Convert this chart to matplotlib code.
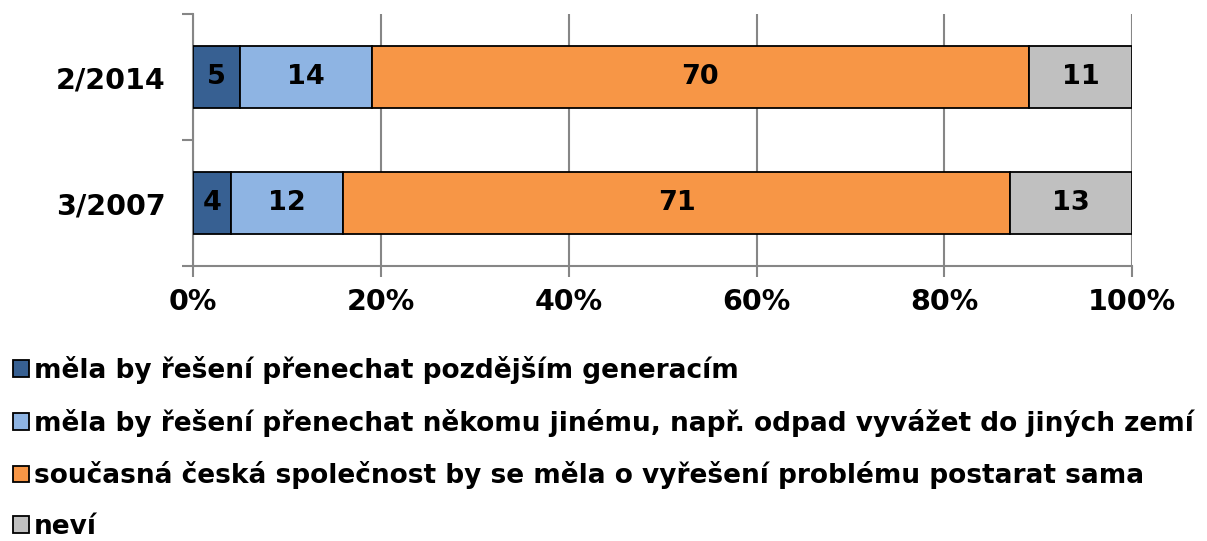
import numpy as np
import matplotlib.pyplot as plt

# data (percent)
periods = ["3/2007", "2/2014"]
later_gen = [4, 5]
someone_else = [12, 14]
ourselves = [71, 70]
dont_know = [13, 11]

labels = [
    "měla by řešení přenechat pozdějším generacím",
    "měla by řešení přenechat někomu jinému, např. odpad vyvážet do jiných zemí",
    "současná česká společnost by se měla o vyřešení problému postarat sama",
    "neví",
]
colors = ["#376092", "#8EB4E3", "#F79646", "#C0C0C0"]

plt.rcParams['font.family'] = ['DejaVu Sans']
plt.rcParams['font.weight'] = 'bold'

fig = plt.figure(figsize=(12.07, 5.41), dpi=100)
ax = fig.add_axes([0.160, 0.508, 0.778, 0.466])

y = np.arange(len(periods))
series = [later_gen, someone_else, ourselves, dont_know]
left = np.zeros(len(periods))
handles = []
for vals, col, lab in zip(series, colors, labels):
    vals = np.array(vals, dtype=float)
    b = ax.barh(y, vals, left=left, height=0.49, color=col,
                edgecolor="black", linewidth=1.3, label=lab, zorder=3)
    handles.append(b)
    for yi, l, v in zip(y, left, vals):
        ax.text(l + v / 2, yi, f"{int(v)}", ha="center", va="center",
                fontsize=19.5, fontweight="bold", color="black", zorder=4)
    left += vals

ax.set_xlim(0, 100)
ax.set_ylim(-0.5, 1.5)
ax.set_xticks(np.arange(0, 101, 20))
ax.set_xticklabels([f"{t}%" for t in range(0, 101, 20)])
ax.set_yticks(y)
ax.set_yticklabels(periods)
ax.set_yticks([-0.5, 0.5, 1.5], minor=True)
ax.tick_params(axis="y", which="major", length=0, pad=20, labelsize=20.5)
ax.tick_params(axis="y", which="minor", length=8, width=1.5, color="#868686")
ax.tick_params(axis="x", length=8, width=1.5, color="#868686", labelsize=20.5, pad=8)

ax.grid(axis="x", color="#868686", linewidth=1.5, zorder=0)
for s in ["top", "right"]:
    ax.spines[s].set_visible(False)
for s in ["left", "bottom"]:
    ax.spines[s].set_color("#868686")
    ax.spines[s].set_linewidth(1.5)

fig.legend(handles=handles, loc="upper left", bbox_to_anchor=(0.002, 0.362),
           frameon=False, fontsize=19, handlelength=0.6, handleheight=0.6,
           handletextpad=0.2, labelspacing=0.94, borderaxespad=0)

fig.savefig("out.png", dpi=100)
